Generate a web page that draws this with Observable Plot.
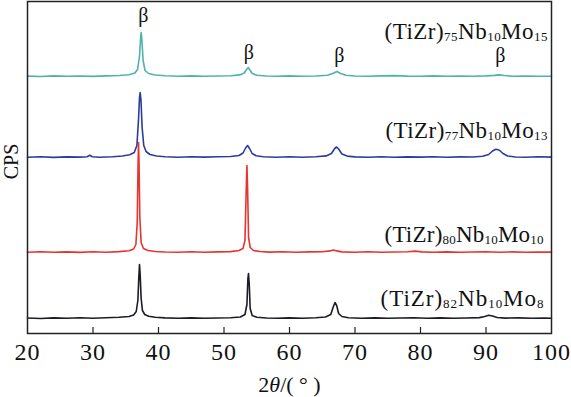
<!DOCTYPE html>
<html><head><meta charset="utf-8">
<script src="https://cdn.jsdelivr.net/npm/d3@7"></script>
<script src="https://cdn.jsdelivr.net/npm/@observablehq/plot@0.6"></script>
<style>body{margin:0;background:#fff}</style>
</head><body><div id="chart"></div>
<script>
// sample names (bottom to top)
const samples = ["(TiZr)82Nb10Mo8", "(TiZr)80Nb10Mo10", "(TiZr)77Nb10Mo13", "(TiZr)75Nb10Mo15"];
const colors = ["#1c1c26", "#e8342e", "#2a3d9c", "#4fb3ab"];
// vertical stacking offset of each pattern (CPS, arbitrary)
const offsets = [15, 81, 176, 257];
// label baseline positions (CPS), horizontal nudge and text length
const labelY = [28, 92, 196, 295];
const labelDx = [-8, -8, -4, -4];
const labelLen = [163, 159, 162, 163];

// XRD patterns: [2θ, intensity above the pattern's baseline]
const pattern82 = [[20,0.5],[22,0],[24,0.6],[26,0.2],[28,0.7],[30,0.3],[32,0.8],[34,1.2],[35.5,2],[36.2,3.5],[36.6,7],[36.85,18],[37.0,42],[37.1,54],[37.2,44],[37.35,20],[37.55,8],[37.9,4],[38.5,2.2],[39.5,1.2],[41,0.6],[43,0.3],[45,0.6],[47,0.2],[49,0.5],[51,0.8],[52.5,1.5],[53.2,4],[53.5,14],[53.65,40],[53.74,45],[53.85,35],[54.0,10],[54.3,3],[55,1.2],[56.5,0.5],[58,0.3],[60,0.6],[62,0.2],[64,0.8],[65.5,1.5],[66.3,4],[66.7,12],[66.95,16],[67.2,13],[67.5,5],[68,2],[69,0.8],[71,0.3],[73,0.6],[75,0.2],[77,0.5],[79,0.8],[81,0.3],[83,0.6],[85,0.2],[87,0.5],[89,0.9],[89.8,2],[90.4,3.2],[91,2.5],[91.7,1],[93,0.4],[95,0.6],[97,0.2],[99,0.5],[100,0.3]];
const pattern80 = [[20,0.3],[22,0.8],[24,0.2],[26,0.6],[28,0.1],[30,0.7],[32,0.3],[34,0.9],[35.5,1.8],[36.2,3.5],[36.55,8],[36.75,30],[36.88,88],[36.95,110],[37.02,92],[37.15,35],[37.35,10],[37.7,4],[38.4,2],[39.5,1],[41,0.5],[43,0.2],[45,0.7],[47,0.3],[49,0.6],[51,0.9],[52.3,2],[52.9,4],[53.2,12],[53.38,60],[53.5,87],[53.6,65],[53.75,15],[54.0,5],[54.5,2],[55.5,1],[57,0.4],[59,0.7],[61,0.2],[63,0.6],[65,0.8],[66.2,1.6],[66.7,2.6],[67.2,1.6],[68,0.6],[70,0.3],[72,0.7],[74,0.2],[76,0.5],[78,0.7],[79.2,1.4],[80.2,0.6],[82,0.3],[84,0.6],[86,0.2],[88,0.5],[90,0.7],[92,0.3],[94,0.6],[96,0.2],[98,0.5],[100,0.4]];
const pattern77 = [[20,0.2],[22,0.7],[24,0.1],[26,0.6],[28,0.4],[29.1,0.8],[29.5,2.2],[29.9,0.7],[31,0.3],[33,0.8],[34.5,1.5],[35.6,2.8],[36.3,5],[36.7,12],[36.95,38],[37.1,60],[37.2,65],[37.32,58],[37.5,30],[37.75,12],[38.1,6],[38.7,3],[39.7,1.5],[41,0.7],[43,0.3],[45,0.8],[47,0.4],[49,0.7],[51,1],[52.3,2],[52.9,4.5],[53.3,9.5],[53.6,12],[53.9,9],[54.3,4],[54.9,1.8],[56,0.8],[58,0.3],[60,0.7],[62,0.2],[64,0.7],[65.6,1.6],[66.4,4],[66.9,9],[67.2,10.5],[67.5,8.5],[68,3.5],[68.8,1.4],[70,0.6],[72,0.2],[74,0.7],[76,0.3],[78,0.6],[80,0.4],[82,0.8],[84,0.2],[86,0.6],[88,0.5],[89.5,1.2],[90.4,3],[91,6.5],[91.5,8.3],[92,7.5],[92.6,4],[93.3,1.5],[94.5,0.5],[96,0.3],[98,0.7],[100,0.4]];
const pattern75 = [[20,0.4],[22,0],[24,0.6],[26,0.2],[28,0.5],[30,0.1],[32,0.6],[34,1],[35.5,1.8],[36.4,3.5],[36.8,7],[37.1,20],[37.28,40],[37.36,44],[37.45,38],[37.65,16],[37.95,6],[38.5,3],[39.5,1.5],[41,0.7],[43,0.3],[45,0.6],[47,0.2],[49,0.5],[51,0.8],[52.4,1.6],[53.1,3.5],[53.5,7.5],[53.7,9],[53.9,7],[54.3,3],[55,1.3],[56.5,0.5],[58,0.2],[60,0.6],[62,0.3],[64,0.5],[65.8,1.2],[66.7,3.2],[67.25,5],[67.8,3],[68.6,1.2],[70,0.5],[72,0.2],[74,0.6],[76,0.9],[78,0.4],[80,0.2],[82,0.6],[84,0.3],[86,0.5],[88,0.2],[90,0.6],[91.3,1.1],[92,1.6],[92.8,1],[94,0.3],[96,0.5],[98,0.2],[100,0.3]];
const patterns = [pattern82, pattern80, pattern77, pattern75];

// β phase peak markers
const betaX = [37.7, 53.8, 67.6, 92.2];
const betaY = [312, 275, 272, 272];

const xTicks = [20, 30, 40, 50, 60, 70, 80, 90, 100];

const rows = [];
patterns.forEach((p, i) => p.forEach(([x, v]) => rows.push({sample: samples[i], x, y: v + offsets[i]})));
const labels = samples.map((s, i) => ({text: s, y: labelY[i], dx: labelDx[i], len: labelLen[i]}));
const betas = betaX.map((x, i) => ({x, y: betaY[i]}));

const chart = Plot.plot({
  width: 571, height: 397,
  marginLeft: 27, marginRight: 20, marginTop: 1, marginBottom: 64,
  style: {fontFamily: "'Liberation Serif', 'Times New Roman', serif", background: "white", color: "#111", overflow: "visible"},
  x: {domain: [20, 100]},
  y: {domain: [0, 332], axis: null},
  color: {domain: samples, range: colors},
  marks: [
    Plot.ruleX(xTicks.slice(1, -1), {x: d => d, insetTop: 326, stroke: "#222", strokeWidth: 1.2}),
    Plot.line(rows, {x: "x", y: "y", z: "sample", stroke: "sample", strokeWidth: 1.6}),
    Plot.text(betas, {x: "x", y: "y", text: () => "β", fontSize: 20, lineAnchor: "bottom", fill: "#111"}),
    ...labels.map(l => Plot.text([l], {x: () => 100, y: "y", text: "text", dx: l.dx, textAnchor: "end", lineAnchor: "bottom", fontSize: 23, fill: "#111"})),
    Plot.frame({stroke: "#222", strokeWidth: 1.5}),
    Plot.axisX({ticks: xTicks, tickSize: 0, tickPadding: 9, fontSize: 24, label: null, tickFormat: d => String(d)}),
    Plot.text(["2θ/( ° )"], {frameAnchor: "bottom", dy: 58, fontSize: 22, lineAnchor: "bottom", fill: "#111"}),
    Plot.text([{x: 18.58, y: 172}], {x: "x", y: "y", text: () => "CPS", rotate: -90, fontSize: 20, textAnchor: "middle", lineAnchor: "bottom", fill: "#111"})
  ]
});
document.getElementById("chart").append(chart);

const svg = d3.select(chart);
svg.selectAll('g[aria-label="x-axis tick label"] text').style("letter-spacing", "1px");
svg.selectAll("text").each(function() {
  const t = this.textContent;
  const sel = d3.select(this);
  if (t.includes("TiZr")) {
    const idx = samples.indexOf(t);
    sel.text(null);
    let sub = false;
    t.split(/(\d+)/).filter(Boolean).forEach(p => {
      const isNum = /^\d+$/.test(p);
      const ts = sel.append("tspan").text(p);
      if (isNum) { ts.attr("font-size", 13).attr("dy", 2); sub = true; }
      else { if (sub) ts.attr("dy", -2); sub = false; }
    });
    if (idx >= 0) sel.attr("textLength", labelLen[idx]).attr("lengthAdjust", "spacing");
  } else if (t.includes("θ")) {
    sel.text(null);
    sel.append("tspan").text("2");
    sel.append("tspan").attr("font-style", "italic").text("θ");
    sel.append("tspan").text("/( ° )");
  }
});
</script></body></html>
